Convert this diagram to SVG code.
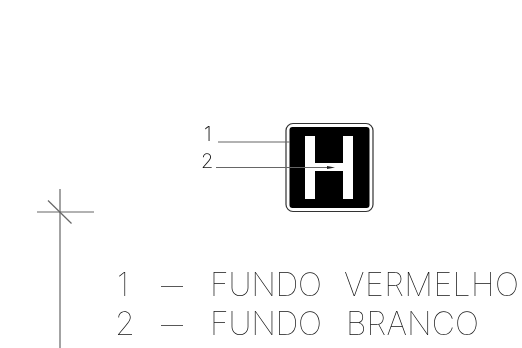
<svg xmlns="http://www.w3.org/2000/svg" width="522" height="348" viewBox="0 0 522 348">
<defs>
<filter id="n" x="0" y="0" width="522" height="348" filterUnits="userSpaceOnUse" color-interpolation-filters="sRGB"><feOffset dx="0" dy="0"/></filter>
</defs>
<style>
.t{font-family:"Inter","Liberation Sans",sans-serif;font-weight:100;fill:#111}
.b{font-size:32px}
.s{font-size:20px;font-weight:200}
.l{stroke:#666;stroke-width:1.2;fill:none}
.g{filter:url(#n)}
</style>
<rect width="522" height="348" fill="#fff"/>
<g id="sign">
<rect x="286" y="123.5" width="87" height="88" rx="7" fill="#fff" stroke="#333" stroke-width="1.2"/>
<rect x="289.5" y="127" width="80" height="81" rx="3" fill="#000"/>
<path d="M305 136H315V163H343V136H353V199H343V171H315V199H305Z" fill="#fff"/>
</g>
<g id="connectors">
<line class="l" x1="218" y1="142" x2="290" y2="142"/>
<line class="l" x1="216" y1="167.5" x2="330" y2="167.5"/>
<path d="M327 166L335 167.5L327 169Z" fill="#222"/>
</g>
<g id="label-1" class="g"><text class="t s" x="204" y="141">1</text></g>
<g id="label-2" class="g"><text class="t s" x="201" y="168">2</text></g>
<g id="axis">
<line class="l" x1="60" y1="189" x2="60" y2="348"/>
<line class="l" x1="37" y1="212" x2="94" y2="212"/>
<line class="l" x1="48" y1="200.500" x2="71.500" y2="223.500"/>
</g>
<g id="legend" class="g">
<text class="t b" x="117" y="296">1</text>
<text class="t b" x="161" y="296" textLength="22" lengthAdjust="spacingAndGlyphs">—</text>
<text class="t b" x="210" y="296" textLength="112" lengthAdjust="spacing">FUNDO</text>
<text class="t b" x="344" y="296" textLength="175" lengthAdjust="spacing">VERMELHO</text>
<text class="t b" x="115" y="335">2</text>
<text class="t b" x="161" y="335" textLength="22" lengthAdjust="spacingAndGlyphs">—</text>
<text class="t b" x="210" y="335" textLength="112" lengthAdjust="spacing">FUNDO</text>
<text class="t b" x="346" y="335" textLength="133" lengthAdjust="spacing">BRANCO</text>
</g>
</svg>
